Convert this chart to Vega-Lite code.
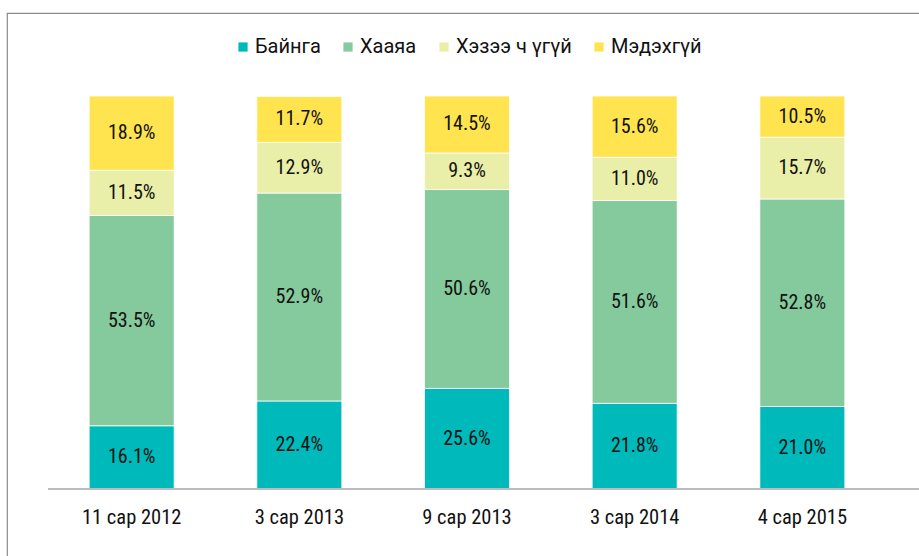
{
  "$schema": "https://vega.github.io/schema/vega-lite/v6.json",
  "width": 920,
  "height": 553,
  "padding": {"left": 7, "top": 13, "right": 0, "bottom": 0},
  "autosize": {"type": "none"},
  "background": "white",
  "config": {
    "view": {"stroke": "#8a8a8a", "strokeWidth": 1.2},
    "font": "Roboto Condensed"
  },
  "data": {
    "values": [
      {"period": "11 сар 2012", "answer": "Байнга", "ord": 1, "value": 16.1},
      {"period": "11 сар 2012", "answer": "Хааяа", "ord": 2, "value": 53.5},
      {"period": "11 сар 2012", "answer": "Хэзээ ч үгүй", "ord": 3, "value": 11.5},
      {"period": "11 сар 2012", "answer": "Мэдэхгүй", "ord": 4, "value": 18.9},
      {"period": "3 сар 2013", "answer": "Байнга", "ord": 1, "value": 22.4},
      {"period": "3 сар 2013", "answer": "Хааяа", "ord": 2, "value": 52.9},
      {"period": "3 сар 2013", "answer": "Хэзээ ч үгүй", "ord": 3, "value": 12.9},
      {"period": "3 сар 2013", "answer": "Мэдэхгүй", "ord": 4, "value": 11.7},
      {"period": "9 сар 2013", "answer": "Байнга", "ord": 1, "value": 25.6},
      {"period": "9 сар 2013", "answer": "Хааяа", "ord": 2, "value": 50.6},
      {"period": "9 сар 2013", "answer": "Хэзээ ч үгүй", "ord": 3, "value": 9.3},
      {"period": "9 сар 2013", "answer": "Мэдэхгүй", "ord": 4, "value": 14.5},
      {"period": "3 сар 2014", "answer": "Байнга", "ord": 1, "value": 21.8},
      {"period": "3 сар 2014", "answer": "Хааяа", "ord": 2, "value": 51.6},
      {"period": "3 сар 2014", "answer": "Хэзээ ч үгүй", "ord": 3, "value": 11.0},
      {"period": "3 сар 2014", "answer": "Мэдэхгүй", "ord": 4, "value": 15.6},
      {"period": "4 сар 2015", "answer": "Байнга", "ord": 1, "value": 21.0},
      {"period": "4 сар 2015", "answer": "Хааяа", "ord": 2, "value": 52.8},
      {"period": "4 сар 2015", "answer": "Хэзээ ч үгүй", "ord": 3, "value": 15.7},
      {"period": "4 сар 2015", "answer": "Мэдэхгүй", "ord": 4, "value": 10.5}
    ]
  },
  "transform": [
    {"stack": "value", "groupby": ["period"], "sort": [{"field": "ord", "order": "ascending"}], "as": ["v0", "v1"]},
    {"calculate": "(datum.v0 + datum.v1) / 2", "as": "mid"},
    {"calculate": "format(datum.value, '.1f') + '%'", "as": "label"}
  ],
  "layer": [
    {
      "mark": {"type": "bar", "stroke": "white", "strokeWidth": 0.8},
      "encoding": {
        "x": {
          "field": "period", "type": "nominal", "sort": null,
          "scale": {"paddingInner": 0.493, "paddingOuter": 0.49},
          "axis": {
            "orient": "bottom", "offset": -77, "title": null, "domain": false, "ticks": false,
            "labelAngle": 0, "labelFontSize": 20.5, "labelFont": "Roboto Condensed",
            "labelColor": "#111111", "labelPadding": 18
          }
        },
        "y": {
          "field": "v0", "type": "quantitative",
          "scale": {"domain": [-19.59, 121.12], "nice": false, "zero": false},
          "axis": null
        },
        "y2": {"field": "v1"},
        "color": {
          "field": "answer", "type": "nominal",
          "scale": {
            "domain": ["Байнга", "Хааяа", "Хэзээ ч үгүй", "Мэдэхгүй"],
            "range": ["#00b9ba", "#84ca9c", "#e9eea8", "#ffe44f"]
          },
          "legend": {
            "title": null, "orient": "none", "direction": "horizontal",
            "legendX": 226, "legendY": 24,
            "symbolType": "square", "symbolSize": 85, "symbolStrokeWidth": 0,
            "labelFontSize": 20, "labelFont": "Roboto",
            "labelColor": "#111111", "labelOffset": 2, "columnPadding": 17
          }
        }
      }
    },
    {
      "mark": {"type": "text", "fontSize": 20, "font": "Roboto Condensed", "color": "#111111"},
      "encoding": {
        "x": {"field": "period", "type": "nominal", "sort": null},
        "y": {"field": "mid", "type": "quantitative"},
        "text": {"field": "label"}
      }
    },
    {
      "mark": {"type": "rule", "color": "#bdbdbd", "strokeWidth": 1.5},
      "encoding": {
        "x": {"datum": "11 сар 2012", "bandPosition": -0.48},
        "x2": {"datum": "4 сар 2015", "bandPosition": 2.5},
        "y": {"datum": 0}
      }
    }
  ]
}
